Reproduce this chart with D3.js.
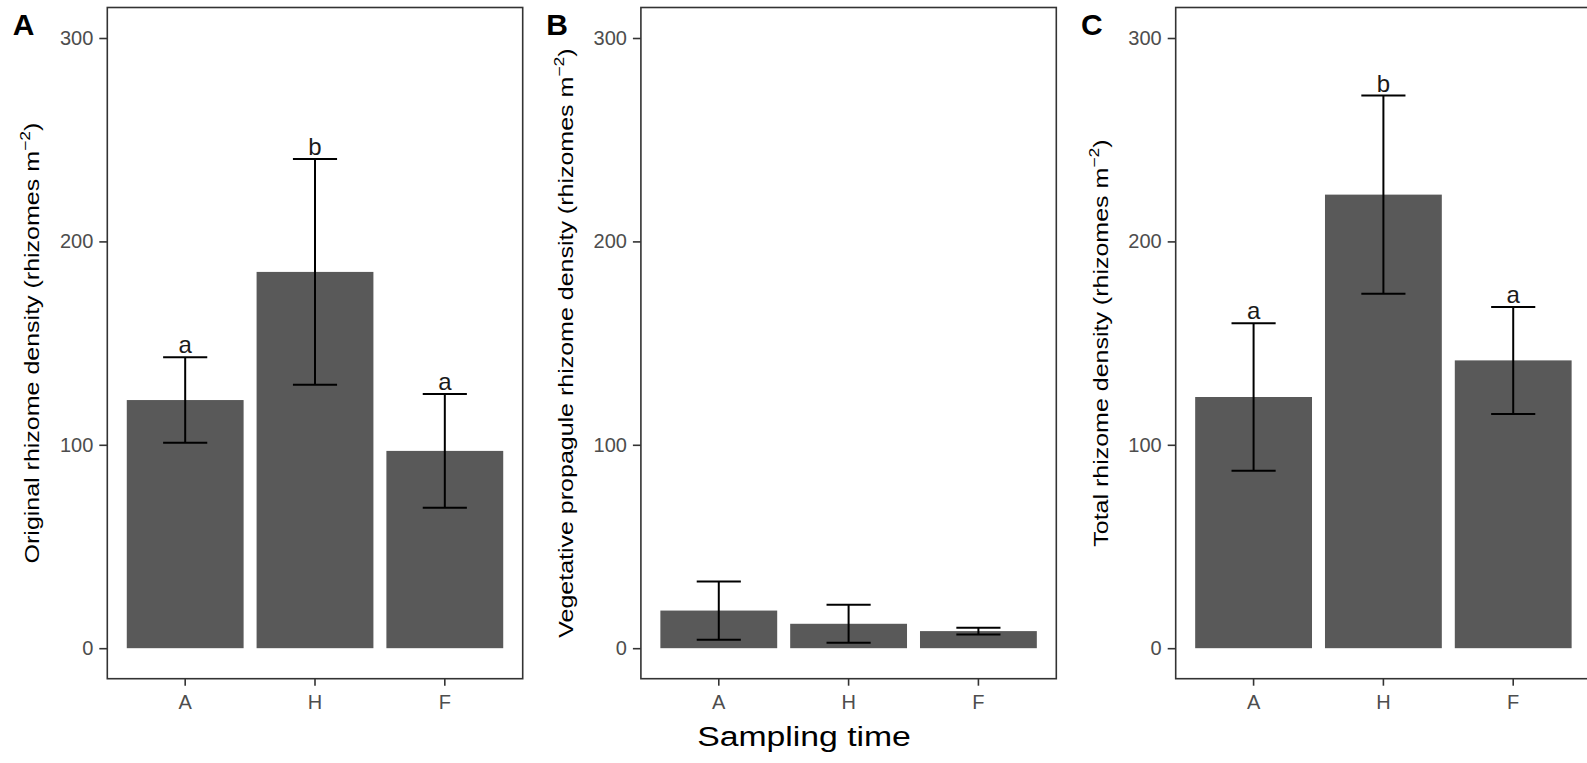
<!DOCTYPE html>
<html>
<head>
<meta charset="utf-8">
<script src="https://cdn.jsdelivr.net/npm/d3@7"></script>
<style>
  body { margin: 0; background: #fff; }
  svg { display: block; font-family: "Liberation Sans", Arial, sans-serif; }
</style>
</head>
<body>
<svg width="1587" height="763"></svg>
<script>
// sampling times
const categories = ["A", "H", "F"];
const yTicks = [0, 100, 200, 300];

// panel A: original rhizome density
const origMean = [122, 185, 97];
const origSE = [21, 55.5, 28];
const origLetters = ["a", "b", "a"];

// panel B: vegetative propagule rhizome density
const vegMean = [18.5, 12, 8.4];
const vegSE = [14.3, 9.3, 1.7];
const vegLetters = ["", "", ""];

// panel C: total rhizome density
const totalMean = [123.5, 223, 141.5];
const totalSE = [36.2, 48.7, 26.3];
const totalLetters = ["a", "b", "a"];

const panels = [
  {tag: "A", title: "Original rhizome density (rhizomes m", mean: origMean, se: origSE, letters: origLetters, left: 107.3},
  {tag: "B", title: "Vegetative propagule rhizome density (rhizomes m", mean: vegMean, se: vegSE, letters: vegLetters, left: 640.9},
  {tag: "C", title: "Total rhizome density (rhizomes m", mean: totalMean, se: totalSE, letters: totalLetters, left: 1175.7}
];

const svg = d3.select("svg");
const pw = 415.4, plotTop = 7.5, plotBottom = 678.7;

const y = d3.scaleLinear().domain([-15, 315]).range([plotBottom, plotTop]);

panels.forEach(p => {
  const x = d3.scaleBand()
              .domain(categories)
              .range([p.left, p.left + pw])
              .paddingInner(0.1)
              .paddingOuter(0.15);
  const data = categories.map((c, i) => ({cat: c, mean: p.mean[i], se: p.se[i], letter: p.letters[i]}));
  const g = svg.append("g");

  // bars
  g.selectAll("rect.bar")
    .data(data)
    .enter()
    .append("rect")
    .attr("class", "bar")
    .attr("x", d => x(d.cat))
    .attr("width", x.bandwidth())
    .attr("y", d => y(d.mean))
    .attr("height", d => y(0) - y(d.mean))
    .attr("fill", "#595959");

  // error bars
  const capHalf = x.step() * 0.17;
  const eb = g.selectAll("g.eb").data(data).enter().append("g")
              .attr("stroke", "#000").attr("stroke-width", 2).attr("fill", "none");
  eb.append("line")
    .attr("x1", d => x(d.cat) + x.bandwidth() / 2)
    .attr("x2", d => x(d.cat) + x.bandwidth() / 2)
    .attr("y1", d => y(d.mean - d.se))
    .attr("y2", d => y(d.mean + d.se));
  eb.append("line")
    .attr("x1", d => x(d.cat) + x.bandwidth() / 2 - capHalf)
    .attr("x2", d => x(d.cat) + x.bandwidth() / 2 + capHalf)
    .attr("y1", d => y(d.mean + d.se))
    .attr("y2", d => y(d.mean + d.se));
  eb.append("line")
    .attr("x1", d => x(d.cat) + x.bandwidth() / 2 - capHalf)
    .attr("x2", d => x(d.cat) + x.bandwidth() / 2 + capHalf)
    .attr("y1", d => y(d.mean - d.se))
    .attr("y2", d => y(d.mean - d.se));

  // significance letters
  g.selectAll("text.sig")
    .data(data.filter(d => d.letter))
    .enter()
    .append("text")
    .attr("class", "sig")
    .attr("x", d => x(d.cat) + x.bandwidth() / 2)
    .attr("y", d => y(d.mean + d.se) - 4)
    .attr("text-anchor", "middle")
    .attr("font-size", 24)
    .attr("fill", "#1a1a1a")
    .text(d => d.letter);

  // axes
  const yAxis = g.append("g")
    .attr("transform", "translate(" + p.left + ",0)")
    .call(d3.axisLeft(y).tickValues(yTicks).tickSize(8).tickPadding(6));
  const xAxis = g.append("g")
    .attr("transform", "translate(0," + plotBottom + ")")
    .call(d3.axisBottom(x).tickSize(7).tickPadding(9));
  [yAxis, xAxis].forEach(a => {
    a.select(".domain").remove();
    a.selectAll(".tick line").attr("stroke", "#333").attr("stroke-width", 1.6);
    a.selectAll(".tick text").attr("fill", "#4d4d4d").attr("font-size", 20)
      .attr("font-family", "'Liberation Sans', Arial, sans-serif");
  });

  // panel border
  g.append("rect")
    .attr("x", p.left).attr("y", plotTop)
    .attr("width", pw).attr("height", plotBottom - plotTop)
    .attr("fill", "none").attr("stroke", "#333").attr("stroke-width", 1.6);

  // y title
  const cy = (plotTop + plotBottom) / 2;
  const t = g.append("text")
    .attr("transform", "translate(" + (p.left - 68) + "," + cy + ") rotate(-90) scale(1.25,1)")
    .attr("text-anchor", "middle")
    .attr("font-size", 20)
    .attr("fill", "#000");
  t.append("tspan").text(p.title);
  t.append("tspan").attr("font-size", 14).attr("dy", -9).text("\u22122");
  t.append("tspan").attr("dy", 9).text(")");

  // panel tag
  g.append("text")
    .attr("x", p.left - 94.6)
    .attr("y", 35)
    .attr("font-size", 30)
    .attr("font-weight", "bold")
    .attr("fill", "#000")
    .text(p.tag);
});

svg.append("text")
  .attr("transform", "translate(804,746) scale(1.25,1)")
  .attr("text-anchor", "middle")
  .attr("font-size", 27)
  .attr("fill", "#000")
  .text("Sampling time");
</script>
</body>
</html>
